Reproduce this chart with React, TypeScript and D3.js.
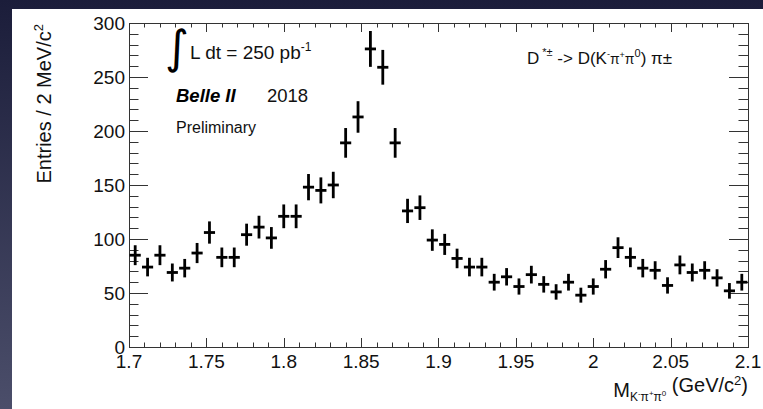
import React from 'react';
import * as d3 from 'd3';

const binCenters = [
  1.704, 1.712, 1.72, 1.728, 1.736, 1.744, 1.752, 1.76, 1.768, 1.776,
  1.784, 1.792, 1.8, 1.808, 1.816, 1.824, 1.832, 1.84, 1.848, 1.856,
  1.864, 1.872, 1.88, 1.888, 1.896, 1.904, 1.912, 1.92, 1.928, 1.936,
  1.944, 1.952, 1.96, 1.968, 1.976, 1.984, 1.992, 2.0, 2.008, 2.016,
  2.024, 2.032, 2.04, 2.048, 2.056, 2.064, 2.072, 2.08, 2.088, 2.096,
];
const entries = [
  85, 74, 85, 69, 73, 87, 106, 83, 83, 104,
  111, 101, 121, 121, 148, 145, 150, 189, 213, 276,
  259, 189, 126, 129, 99, 95, 82, 74, 74, 60,
  65, 56, 67, 58, 51, 60, 48, 56, 72, 92,
  83, 73, 71, 57, 76, 69, 71, 64, 52, 60,
];
const binHalfWidth = 0.0036;
const xTickValues = [1.7, 1.75, 1.8, 1.85, 1.9, 1.95, 2.0, 2.05, 2.1];
const xTickLabels = ['1.7', '1.75', '1.8', '1.85', '1.9', '1.95', '2', '2.05', '2.1'];
const yTickValues = [0, 50, 100, 150, 200, 250, 300];

const W = 763, H = 409;
const L = 129, R = 748, T = 23, B = 347;
const FONT = '"Liberation Sans", Arial, Helvetica, sans-serif';

export default function App() {
  const x = d3.scaleLinear().domain([1.7, 2.1]).range([L, R]);
  const y = d3.scaleLinear().domain([0, 300]).range([B, T]);
  const xMinor = d3.range(0, 41).map((i) => 1.7 + i * 0.01);
  const yMinor = d3.range(0, 31).map((i) => i * 10);
  const isMajorX = (v: number) => Math.abs(v * 20 - Math.round(v * 20)) < 1e-6;
  const isMajorY = (v: number) => v % 50 === 0;

  return (
    <svg width={W} height={H} style={{ position: 'absolute', left: 0, top: 0 }}>
      <defs>
        <linearGradient id="bg" x1="0" y1="0" x2="0" y2="1">
          <stop offset="0" stopColor="#1b1d3a" />
          <stop offset="1" stopColor="#4b4e6a" />
        </linearGradient>
      </defs>
      <rect x={0} y={0} width={W} height={H} fill="url(#bg)" />
      <rect x={12} y={9} width={W - 12} height={H - 9} fill="#ffffff" />

      {/* ticks */}
      <g stroke="#333" strokeWidth={1}>
        {xMinor.map((v, i) => {
          const len = isMajorX(v) ? 9 : 4.5;
          const px = Math.round(x(v)) + 0.5;
          return (
            <g key={'xt' + i}>
              <line x1={px} x2={px} y1={B} y2={B - len} />
              <line x1={px} x2={px} y1={T} y2={T + len} />
            </g>
          );
        })}
        {yMinor.map((v, i) => {
          const len = isMajorY(v) ? 19 : 9.5;
          const py = Math.round(y(v)) + 0.5;
          return (
            <g key={'yt' + i}>
              <line x1={L} x2={L + len} y1={py} y2={py} />
              <line x1={R} x2={R - len} y1={py} y2={py} />
            </g>
          );
        })}
        <rect x={L + 0.5} y={T + 0.5} width={R - L} height={B - T} fill="none" />
      </g>

      {/* tick labels */}
      <g fontFamily={FONT} fontSize={19} fill="#111">
        {xTickValues.map((v, i) => (
          <text key={'xl' + i} x={x(v)} y={368} textAnchor="middle">{xTickLabels[i]}</text>
        ))}
        {yTickValues.map((v, i) => (
          <text key={'yl' + i} x={125} y={y(v) + 7} textAnchor="end">{v}</text>
        ))}
      </g>

      {/* axis titles */}
      <text fontFamily={FONT} fontSize={20} fill="#111" textAnchor="end"
        transform={`translate(51,${T + 1}) rotate(-90)`}>
        Entries / 2 MeV/c<tspan dy={-8} fontSize={13}>2</tspan>
      </text>
      <text fontFamily={FONT} fontSize={20} fill="#111" x={R} y={397} textAnchor="end">
        M<tspan dy={4} fontSize={12}>K</tspan><tspan dy={-5} fontSize={8}>-</tspan><tspan dy={5} fontSize={12}>π</tspan><tspan dy={-5} fontSize={8}>+</tspan><tspan dy={5} fontSize={12}>π</tspan><tspan dy={-5} fontSize={8}>0</tspan><tspan dy={-4}> (GeV/c</tspan><tspan dy={-7} fontSize={13}>2</tspan><tspan dy={7}>)</tspan>
      </text>

      {/* data points */}
      <g stroke="#000" strokeWidth={2.8}>
        {entries.map((n, i) => {
          const cx = x(binCenters[i]);
          const cy = y(n);
          const e = Math.sqrt(n);
          return (
            <g key={'p' + i}>
              <line x1={cx} x2={cx} y1={y(n + e)} y2={y(n - e)} />
              <line x1={x(binCenters[i] - binHalfWidth)} x2={x(binCenters[i] + binHalfWidth)} y1={cy} y2={cy} />
            </g>
          );
        })}
      </g>

      {/* annotations */}
      <text fontFamily='"DejaVu Sans", sans-serif' fontSize={46} fill="#000" x={165} y={63}>∫</text>
      <text fontFamily={FONT} fontSize={19} fill="#111" x={190} y={59}>
        L dt = 250 pb<tspan dy={-8} fontSize={12}>-1</tspan>
      </text>
      <text fontFamily={FONT} fontSize={18.5} fontWeight="bold" fontStyle="italic" fill="#000" x={176} y={102}>Belle II</text>
      <text fontFamily={FONT} fontSize={18.5} fill="#111" x={267} y={102}>2018</text>
      <text fontFamily={FONT} fontSize={16} fill="#111" x={176} y={133}>Preliminary</text>
      <text fontFamily={FONT} fontSize={17} fill="#111" x={527} y={64}>
        D<tspan dx={3} dy={-8} fontSize={11}>*±</tspan><tspan dy={8}> -&gt; D(K</tspan><tspan dy={-7} fontSize={9}>-</tspan><tspan dy={7} fontSize={14}>π</tspan><tspan dy={-6} fontSize={9}>+</tspan><tspan dy={6} fontSize={14}>π</tspan><tspan dy={-7} fontSize={11}>0</tspan><tspan dy={7}>) π±</tspan>
      </text>
    </svg>
  );
}
